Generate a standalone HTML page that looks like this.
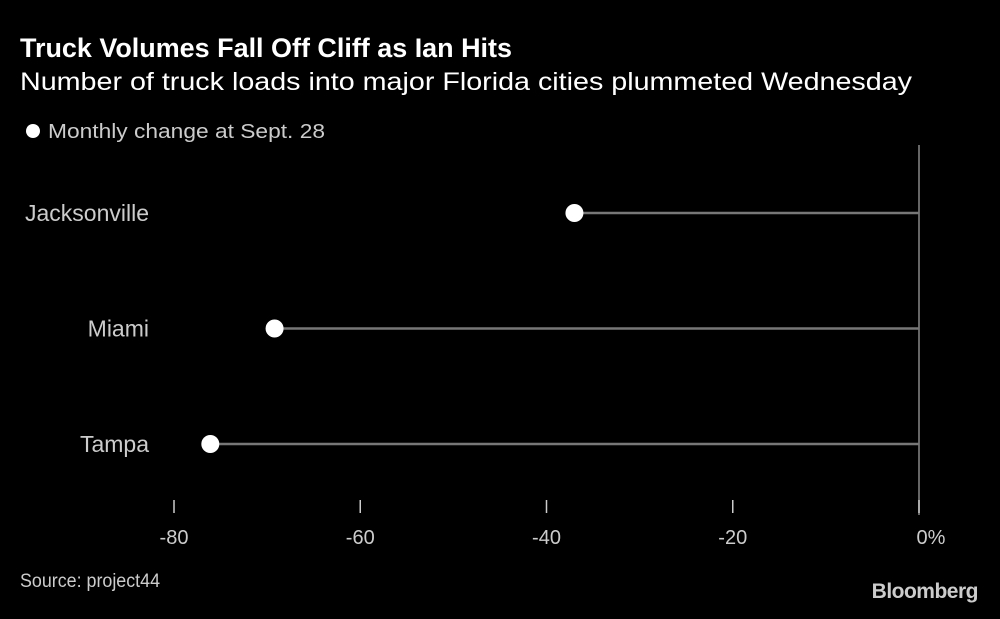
<!DOCTYPE html>
<html><head><meta charset="utf-8"><style>
body{margin:0;background:#000;width:1000px;height:614px;overflow:hidden;font-family:"Liberation Sans",sans-serif;color:#fff}
</style></head><body>
<svg width="1000" height="614" xmlns="http://www.w3.org/2000/svg">
<text x="20" y="57" font-size="27" font-weight="bold" fill="#fff" textLength="492" lengthAdjust="spacingAndGlyphs">Truck Volumes Fall Off Cliff as Ian Hits</text>
<text x="20" y="90" font-size="25" fill="#fff" textLength="892" lengthAdjust="spacingAndGlyphs">Number of truck loads into major Florida cities plummeted Wednesday</text>
<circle cx="33" cy="131" r="7" fill="#fff"/>
<text x="48" y="138" font-size="20" fill="#ccc" textLength="277" lengthAdjust="spacingAndGlyphs">Monthly change at Sept. 28</text>
<line x1="919" y1="145" x2="919" y2="515" stroke="#888" stroke-width="1.5"/>
<g id="ticks"></g>
<g id="marks"></g>
<text x="20" y="587" font-size="19" fill="#ccc" textLength="140" lengthAdjust="spacingAndGlyphs">Source: project44</text>
<text x="978" y="598" font-size="21" font-weight="bold" fill="#ccc" text-anchor="end" letter-spacing="-0.5">Bloomberg</text>
</svg>
<script>
const categories=["Jacksonville","Miami","Tampa"];
const values=[-37,-69.2,-76.1];
const tickValues=[-80,-60,-40,-20,0];
const tickLabels=["-80","-60","-40","-20","0%"];
const NS="http://www.w3.org/2000/svg";
const x=v=>919+v*(745/80);
const y=i=>213+i*115.5;
function mk(t,a,p){const e=document.createElementNS(NS,t);for(const k in a)e.setAttribute(k,a[k]);p.appendChild(e);return e;}
const tg=document.getElementById('ticks');
tickValues.forEach((v,i)=>{
 const l=mk('line',{x1:x(v),x2:x(v),y1:500,y2:513,stroke:'#ccc','stroke-width':1.5},tg);
 
 
 const t=mk('text',{x:x(v)+(v===0?12:0),y:544,'font-size':20,fill:'#ccc','text-anchor':'middle'},tg);
 t.textContent=tickLabels[i];
 
 
});
const mg=document.getElementById('marks');
categories.forEach((c,i)=>{
 const t=mk('text',{x:149,y:y(i)+8,'font-size':23,fill:'#ccc','text-anchor':'end'},mg);
 t.textContent=c;
 
 
 const l=mk('line',{x1:x(values[i]),x2:x(0),y1:y(i),y2:y(i),stroke:'#777','stroke-width':2.5},mg);
 
 
 const d=mk('circle',{cx:x(values[i]),cy:y(i),r:9,fill:'#fff'},mg);
 
 
});
</script>
</body></html>
